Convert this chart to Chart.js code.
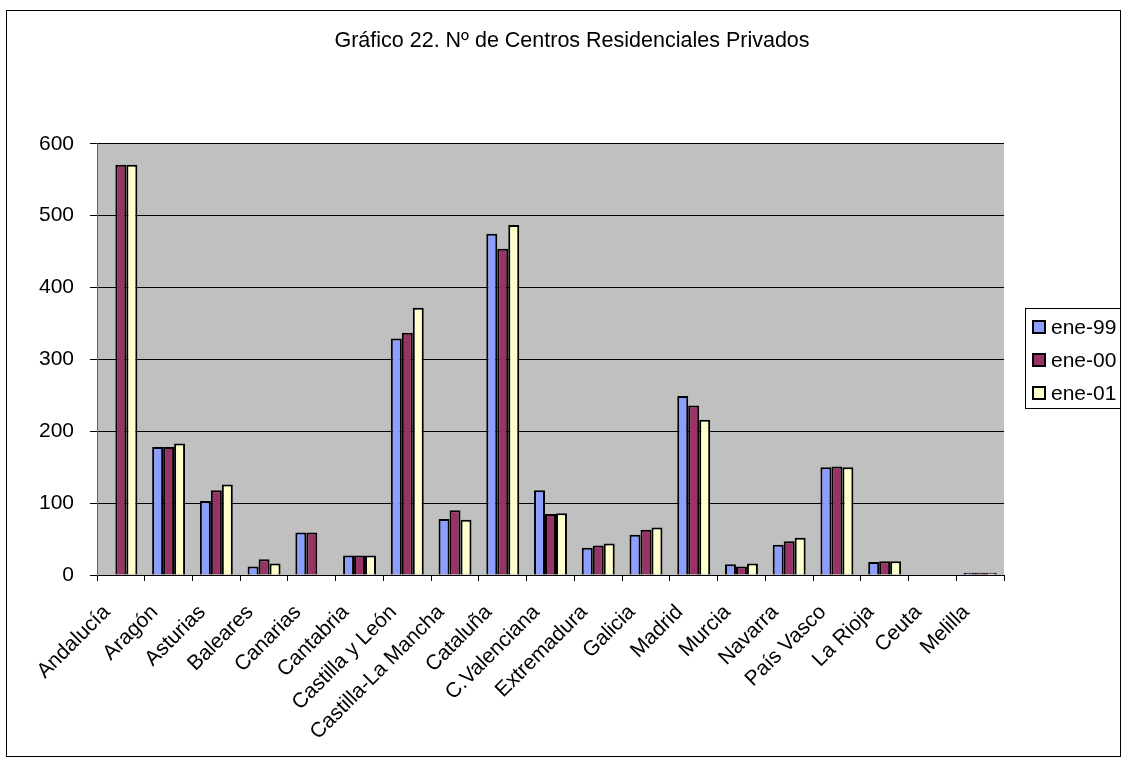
<!DOCTYPE html>
<html>
<head>
<meta charset="utf-8">
<script src="https://cdn.jsdelivr.net/npm/chart.js@4.4.1/dist/chart.umd.min.js"></script>
<style>
body { margin: 0; background: #fff; }
#contenedor { width: 1123px; height: 760px; }
</style>
</head>
<body>
<div id="contenedor"><canvas id="graficaCentros"></canvas></div>
<script>
var regiones = ['Andalucía', 'Aragón', 'Asturias', 'Baleares', 'Canarias', 'Cantabria',
    'Castilla y León', 'Castilla-La Mancha', 'Cataluña', 'C.Valenciana', 'Extremadura',
    'Galicia', 'Madrid', 'Murcia', 'Navarra', 'País Vasco', 'La Rioja', 'Ceuta', 'Melilla'];
var ene99 = [null, 178, 103, 12, 59, 27, 329, 78, 475, 118, 38, 56, 249, 15, 42, 150, 18, null, 3];
var ene00 = [571, 178, 118, 22, 59, 27, 337, 90, 454, 85, 41, 63, 236, 12, 47, 151, 19, null, 3];
var ene01 = [571, 183, 126, 16, null, 27, 372, 77, 487, 86, 44, 66, 216, 16, 52, 150, 19, null, 3];
var series = ['ene-99', 'ene-00', 'ene-01'];
var ejeY = { min: 0, max: 600, paso: 100 };

var fuente = '"Liberation Sans", Arial, sans-serif';
Chart.defaults.font.family = fuente;
Chart.defaults.color = '#000';

// fondo gris del area de trazado, marco exterior y leyenda con recuadro
var marcoExcel = {
    id: 'marcoExcel',
    beforeDraw: function (chart) {
        var c = chart.ctx, a = chart.chartArea;
        c.save();
        c.fillStyle = '#fff';
        c.fillRect(0, 0, chart.width, chart.height);
        c.fillStyle = '#C0C0C0';
        c.fillRect(a.left, a.top, a.right - a.left, a.bottom - a.top);
        c.restore();
    },
    afterDraw: function (chart) {
        var c = chart.ctx;
        c.save();
        c.strokeStyle = '#000';
        c.lineWidth = 1;
        c.strokeRect(6.5, 10.5, 1114, 746);
        c.strokeRect(1025.5, 308.5, 95, 100);
        c.font = '21px ' + fuente;
        c.textBaseline = 'middle';
        chart.data.datasets.forEach(function (ds, i) {
            var y = 327 + i * 33;
            c.fillStyle = ds.backgroundColor;
            c.fillRect(1033, y - 6, 12, 12);
            c.lineWidth = 2;
            c.strokeStyle = '#000';
            c.strokeRect(1033, y - 6, 12, 12);
            c.fillStyle = '#000';
            c.fillText(ds.label, 1051, y + 1);
        });
        c.restore();
    }
};

var ctx = document.getElementById('graficaCentros').getContext('2d');
var chart = new Chart(ctx, {
    type: 'bar',
    data: {
        labels: regiones,
        datasets: [
            { label: series[0], data: ene99, backgroundColor: '#8C9EFF', borderColor: '#000', borderWidth: 2 },
            { label: series[1], data: ene00, backgroundColor: '#993366', borderColor: '#000', borderWidth: 2 },
            { label: series[2], data: ene01, backgroundColor: '#FFFFCC', borderColor: '#000', borderWidth: 2 }
        ]
    },
    options: {
        responsive: true,
        maintainAspectRatio: false,
        animation: false,
        layout: { padding: { left: 21, right: 0, top: 0, bottom: 0 } },
        datasets: {
            bar: { categoryPercentage: 0.69, barPercentage: 1, grouped: true }
        },
        scales: {
            x: {
                grid: { offset: true, drawOnChartArea: false, tickLength: 6, color: '#000' },
                border: { color: '#000' },
                ticks: { autoSkip: false, minRotation: 45, maxRotation: 45, font: { size: 21 }, padding: 19, labelOffset: -14 },
                afterFit: function (s) { s.height = 185; }
            },
            y: {
                min: ejeY.min,
                max: ejeY.max,
                ticks: { stepSize: ejeY.paso, font: { size: 21 }, padding: 16 },
                grid: { color: '#000', tickLength: 7, tickColor: '#000' },
                border: { color: '#666' },
                afterFit: function (s) { s.width = 76; }
            },
            hueco: {
                position: 'right',
                display: true,
                grid: { display: false },
                border: { display: false },
                ticks: { display: false },
                afterFit: function (s) { s.width = 119; }
            }
        },
        plugins: {
            legend: { display: false },
            tooltip: { enabled: false },
            title: {
                display: true,
                text: 'Gráfico 22. Nº de Centros Residenciales Privados',
                color: '#000',
                font: { size: 21.5, weight: 'normal' },
                padding: { top: 28, bottom: 90 }
            }
        }
    },
    plugins: [marcoExcel]
});
</script>
</body>
</html>
